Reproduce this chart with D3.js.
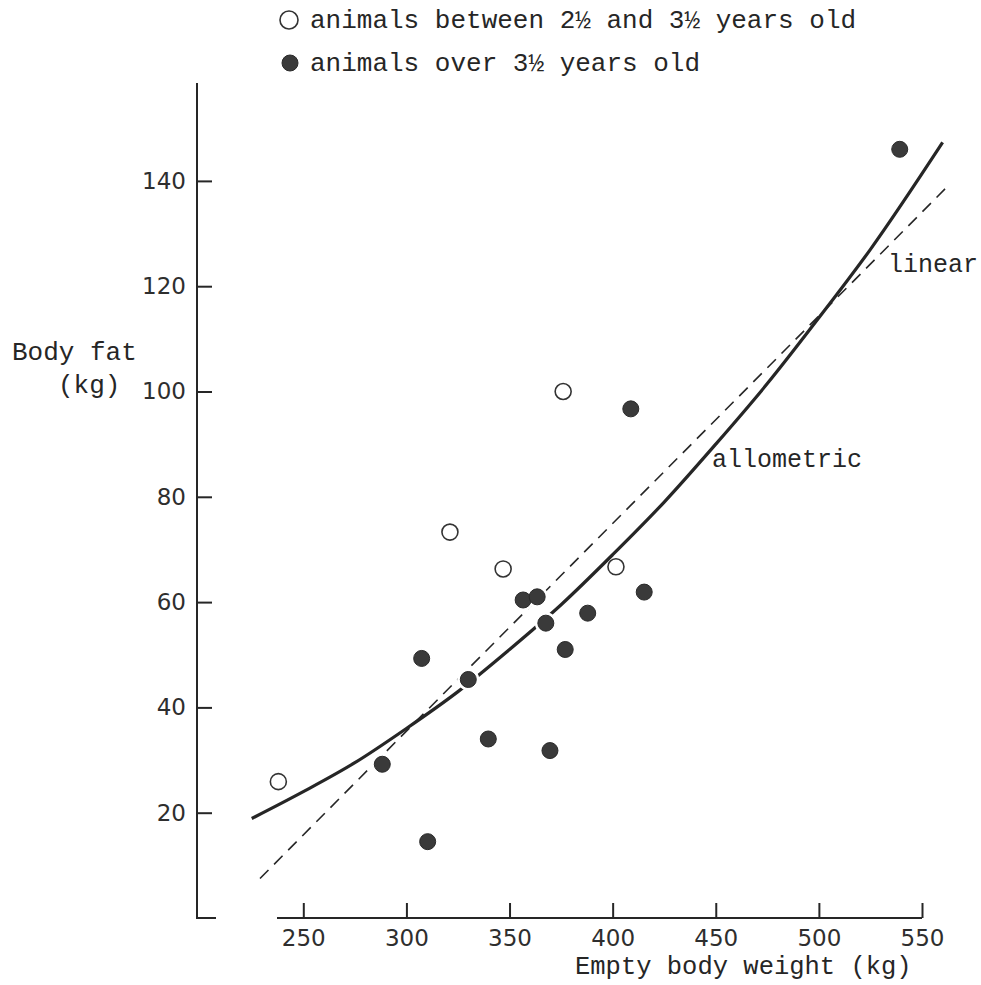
<!DOCTYPE html>
<html>
<head>
<meta charset="utf-8">
<script src="https://cdn.jsdelivr.net/npm/d3@7/dist/d3.min.js"></script>
<style>
  html, body { margin: 0; padding: 0; background: #ffffff; }
  svg { display: block; }
  .mono { font-family: "Liberation Mono", "DejaVu Sans Mono", monospace; fill: #262626; }
  .axis text { font-family: "DejaVu Sans", sans-serif; font-size: 23px; fill: #2e2e2e; }
  .axis line { stroke: #262626; stroke-width: 2px; }
</style>
</head>
<body>
<svg id="chart" width="981" height="985"></svg>
<script>
// Animals between 2½ and 3½ years old: empty body weight (kg) and body fat (kg)
const youngWeight = [237.9, 321.1, 346.9, 376.0, 401.6];
const youngFat    = [25.9, 73.3, 66.3, 100.0, 66.7];

// Animals over 3½ years old
const oldWeight = [288.3, 307.4, 310.3, 330.0, 339.7, 356.6, 363.4, 367.6, 369.6, 377.0, 387.9, 408.8, 415.3, 539.2];
const oldFat    = [29.2, 49.3, 14.5, 45.3, 34.0, 60.4, 61.0, 56.0, 31.8, 51.0, 57.9, 96.7, 61.9, 146.0];

// Fitted allometric curve, points along it
const allometricWeight = [225, 250, 275, 300, 325, 350, 375, 400, 425, 450, 475, 500, 525, 560];
const allometricFat    = [18.9, 24.0, 29.5, 36.0, 43.0, 51.0, 59.5, 69.0, 79.0, 90.0, 101.5, 114.0, 127.0, 147.3];

// Fitted linear relation, end points
const linearWeight = [229, 562.5];
const linearFat    = [7.5, 139.0];

const xTicks = [250, 300, 350, 400, 450, 500, 550];
const yTicks = [20, 40, 60, 80, 100, 120, 140];

const svg = d3.select("#chart");
const ink = "#262626";

const x = d3.scaleLinear().domain([250, 550]).range([303.3, 922]);
const y = d3.scaleLinear().domain([0, 140]).range([918, 918 - 140 * 5.265]);

const axisX = 197;   // vertical axis position
const axisY = 918;   // horizontal axis position

// Axes (ticks point inward)
const yAxis = svg.append("g")
  .attr("class", "axis")
  .attr("transform", `translate(${axisX},0)`)
  .call(d3.axisLeft(y).tickValues(yTicks).tickSize(-15).tickPadding(11).tickFormat(d3.format("d")));
yAxis.select(".domain").remove();

const xAxis = svg.append("g")
  .attr("class", "axis")
  .attr("transform", `translate(0,${axisY})`)
  .call(d3.axisBottom(x).tickValues(xTicks).tickSize(-15).tickPadding(12).tickFormat(d3.format("d")));
xAxis.select(".domain").remove();

// Axis lines: vertical axis with a short foot, then a broken horizontal axis
svg.append("path")
  .attr("d", `M${axisX},83 V${axisY} H216`)
  .attr("fill", "none").attr("stroke", ink).attr("stroke-width", 2);
svg.append("path")
  .attr("d", `M277,${axisY} H${x(550)}`)
  .attr("fill", "none").attr("stroke", ink).attr("stroke-width", 2);

// Linear fit (dashed)
const line = d3.line().x(d => x(d[0])).y(d => y(d[1]));
svg.append("path")
  .datum(d3.zip(linearWeight, linearFat))
  .attr("d", line)
  .attr("fill", "none")
  .attr("stroke", ink)
  .attr("stroke-width", 1.6)
  .attr("stroke-dasharray", "12,8");

// Allometric fit (solid curve)
svg.append("path")
  .datum(d3.zip(allometricWeight, allometricFat))
  .attr("d", line.curve(d3.curveMonotoneX))
  .attr("fill", "none")
  .attr("stroke", ink)
  .attr("stroke-width", 3.2);

// Points: the fitted lines are interrupted where they pass behind a point
svg.append("g").selectAll("circle")
  .data(d3.zip(youngWeight, youngFat))
  .join("circle")
  .attr("cx", d => x(d[0]))
  .attr("cy", d => y(d[1]))
  .attr("r", 8)
  .attr("fill", "#ffffff")
  .attr("stroke", "#333")
  .attr("stroke-width", 1.6);

const oldPts = d3.zip(oldWeight, oldFat);
svg.append("g").selectAll("circle")
  .data(oldPts)
  .join("circle")
  .attr("cx", d => x(d[0]))
  .attr("cy", d => y(d[1]))
  .attr("r", 11)
  .attr("fill", "#ffffff");
svg.append("g").selectAll("circle")
  .data(oldPts)
  .join("circle")
  .attr("cx", d => x(d[0]))
  .attr("cy", d => y(d[1]))
  .attr("r", 8)
  .attr("fill", "#3a3a3a")
  .attr("stroke", "#2a2a2a")
  .attr("stroke-width", 1);

// Curve labels
svg.append("text").attr("class", "mono").attr("x", 888).attr("y", 272)
  .attr("font-size", 25).text("linear");
svg.append("text").attr("class", "mono").attr("x", 712).attr("y", 467)
  .attr("font-size", 25).text("allometric");

// Axis titles
svg.append("text").attr("class", "mono").attr("x", 12).attr("y", 360)
  .attr("font-size", 26).text("Body fat");
svg.append("text").attr("class", "mono").attr("x", 58).attr("y", 393)
  .attr("font-size", 26).text("(kg)");
svg.append("text").attr("class", "mono").attr("x", 575).attr("y", 974)
  .attr("font-size", 25.5).text("Empty body weight (kg)");

// Legend
svg.append("circle").attr("cx", 289).attr("cy", 20).attr("r", 9)
  .attr("fill", "#fff").attr("stroke", "#333").attr("stroke-width", 1.6);
svg.append("text").attr("class", "mono").attr("x", 310).attr("y", 28)
  .attr("font-size", 26).text("animals between 2½ and 3½ years old");
svg.append("circle").attr("cx", 290).attr("cy", 63).attr("r", 8)
  .attr("fill", "#3a3a3a").attr("stroke", "#2a2a2a").attr("stroke-width", 1);
svg.append("text").attr("class", "mono").attr("x", 310).attr("y", 71)
  .attr("font-size", 26).text("animals over 3½ years old");
</script>
</body>
</html>
